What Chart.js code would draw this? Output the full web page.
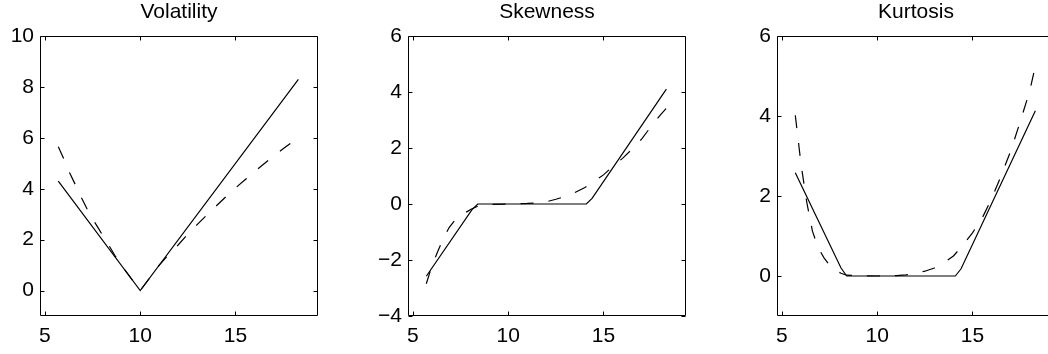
<!DOCTYPE html>
<html>
<head>
<meta charset="utf-8">
<script src="https://cdn.jsdelivr.net/npm/chart.js@4.4.1/dist/chart.umd.min.js"></script>
<style>
  html, body { margin: 0; padding: 0; background: #fff; overflow: hidden; width: 1048px; height: 354px; }
  .panel { position: absolute; top: 0; width: 330px; height: 354px; }
</style>
</head>
<body>
<div class="panel" style="left:0px"><canvas id="volChart" width="330" height="354"></canvas></div>
<div class="panel" style="left:368px"><canvas id="skewChart" width="330" height="354"></canvas></div>
<div class="panel" style="left:737px"><canvas id="kurtChart" width="330" height="354"></canvas></div>

<script>
// shared x axis
const xMin = 4.74, xMax = 19.33;
const xTicks = [5, 10, 15];

// Volatility
const volSolidX = [5.7, 10, 18.3];
const volSolidY = [4.3, 0, 8.3];
const volDashX = [5.7, 6.0, 6.3, 6.6, 6.9, 7.2, 7.5, 7.8, 8.1, 8.4, 8.7, 9.0, 9.3, 9.6, 10,
                  10.5, 11, 11.5, 12, 12.5, 13, 13.5, 14, 14.5, 15, 15.5, 16, 16.5, 17, 17.5, 18, 18.3];
const volDashY = [5.65, 5.15, 4.62, 4.15, 3.67, 3.22, 2.82, 2.45, 2.08, 1.72, 1.34, 1.0, 0.7, 0.4, 0,
                  0.5, 1.0, 1.42, 1.8, 2.22, 2.6, 2.97, 3.33, 3.69, 4.03, 4.35, 4.67, 4.98, 5.28, 5.57, 5.85, 6.0];
const volTicks = [0, 2, 4, 6, 8, 10];

// Skewness
const skewSolidX = [5.7, 8.1, 8.4, 14.1, 14.4, 18.3];
const skewSolidY = [-2.58, -0.2, 0, 0, 0.2, 4.1];
const skewDashX = [5.7, 6.0, 6.3, 6.6, 6.9, 7.2, 7.5, 7.8, 8.1, 8.4, 9.0, 10, 11, 11.5,
                   12, 12.5, 13, 13.5, 14, 14.5, 15, 15.5, 16, 16.5, 17, 17.5, 18, 18.3];
const skewDashY = [-2.85, -2.2, -1.7, -1.23, -0.84, -0.58, -0.42, -0.29, -0.17, -0.08, -0.02, 0, 0.02, 0.04,
                   0.08, 0.17, 0.27, 0.41, 0.58, 0.8, 1.04, 1.35, 1.63, 1.96, 2.32, 2.77, 3.19, 3.42];
const skewTicks = [-4, -2, 0, 2, 4, 6];

// Kurtosis
const kurtSolidX = [5.7, 8.1, 8.4, 14.1, 14.4, 18.3];
const kurtSolidY = [2.58, 0.2, 0, 0, 0.18, 4.13];
const kurtDashX = [5.7, 6.0, 6.3, 6.6, 6.9, 7.2, 7.5, 7.8, 8.1, 8.4, 9.0, 10, 11, 11.5,
                   12, 12.5, 13, 13.5, 14, 14.5, 15, 15.5, 16, 16.5, 17, 17.5, 18, 18.3];
const kurtDashY = [4.02, 2.8, 1.85, 1.12, 0.71, 0.46, 0.27, 0.14, 0.07, 0.02, 0.01, 0, 0.01, 0.03,
                   0.06, 0.12, 0.2, 0.33, 0.5, 0.77, 1.08, 1.44, 1.93, 2.5, 3.12, 3.85, 4.62, 5.25];
const kurtTicks = [0, 2, 4, 6];

const FONT = '"Liberation Sans", Arial, Helvetica, sans-serif';

// box round the plot plus short inward tick marks on all four sides
const boxAxes = {
    id: 'boxAxes',
    afterDraw(chart) {
        const { ctx, chartArea: a, scales } = chart;
        const len = 4;
        const l = Math.round(a.left) + 0.5, r = Math.round(a.right) - 0.5;
        const t = Math.round(a.top) + 0.5, b = Math.round(a.bottom) - 0.5;
        ctx.save();
        ctx.strokeStyle = '#000';
        ctx.lineWidth = 1;
        ctx.beginPath();
        for (const tk of scales.x.ticks) {
            const px = Math.round(scales.x.getPixelForValue(tk.value)) + 0.5;
            ctx.moveTo(px, b); ctx.lineTo(px, b - len);
            ctx.moveTo(px, t); ctx.lineTo(px, t + len);
        }
        for (const tk of scales.y.ticks) {
            const py = Math.round(scales.y.getPixelForValue(tk.value)) + 0.5;
            ctx.moveTo(l, py); ctx.lineTo(l + len, py);
            ctx.moveTo(r, py); ctx.lineTo(r - len, py);
        }
        ctx.rect(l, t, r - l, b - t);
        ctx.stroke();
        ctx.restore();
    }
};

function pairs(xs, ys) {
    return xs.map((x, i) => ({ x: x, y: ys[i] }));
}

function makePanel(id, title, solidX, solidY, dashX, dashY, yMin, yMax, yTicks) {
    return new Chart(document.getElementById(id), {
        type: 'line',
        data: {
            datasets: [
                {
                    data: pairs(solidX, solidY),
                    borderColor: '#000',
                    borderWidth: 1.2,
                    pointRadius: 0,
                    tension: 0
                },
                {
                    data: pairs(dashX, dashY),
                    borderColor: '#000',
                    borderWidth: 1.2,
                    borderDash: [13, 15],
                    pointRadius: 0,
                    tension: 0
                }
            ]
        },
        options: {
            responsive: false,
            animation: false,
            devicePixelRatio: 1,
            layout: { padding: { left: 0, right: 12, top: 0, bottom: 0 } },
            plugins: {
                legend: { display: false },
                tooltip: { enabled: false },
                title: {
                    display: true,
                    fullSize: false,
                    text: title,
                    color: '#000',
                    font: { family: FONT, size: 21, weight: 'normal', lineHeight: 1.2 },
                    padding: { top: 0, bottom: 10.8 }
                }
            },
            scales: {
                x: {
                    type: 'linear',
                    min: xMin,
                    max: xMax,
                    grid: { display: false, drawTicks: false },
                    border: { display: false },
                    afterBuildTicks: s => { s.ticks = xTicks.map(v => ({ value: v })); },
                    afterFit: s => { s.height = 38; },
                    ticks: {
                        color: '#000',
                        padding: 8,
                        maxRotation: 0,
                        font: { family: FONT, size: 21 }
                    }
                },
                y: {
                    min: yMin,
                    max: yMax,
                    grid: { display: false, drawTicks: false },
                    border: { display: false },
                    afterBuildTicks: s => { s.ticks = yTicks.map(v => ({ value: v })); },
                    afterFit: s => { s.width = 40; },
                    ticks: {
                        color: '#000',
                        padding: 6,
                        font: { family: FONT, size: 21 },
                        callback: v => String(v).replace('-', '\u2212')
                    }
                }
            }
        },
        plugins: [boxAxes]
    });
}

makePanel('volChart', 'Volatility', volSolidX, volSolidY, volDashX, volDashY, -1, 10, volTicks);
makePanel('skewChart', 'Skewness', skewSolidX, skewSolidY, skewDashX, skewDashY, -4, 6, skewTicks);
makePanel('kurtChart', 'Kurtosis', kurtSolidX, kurtSolidY, kurtDashX, kurtDashY, -1, 6, kurtTicks);
</script>
</body>
</html>
